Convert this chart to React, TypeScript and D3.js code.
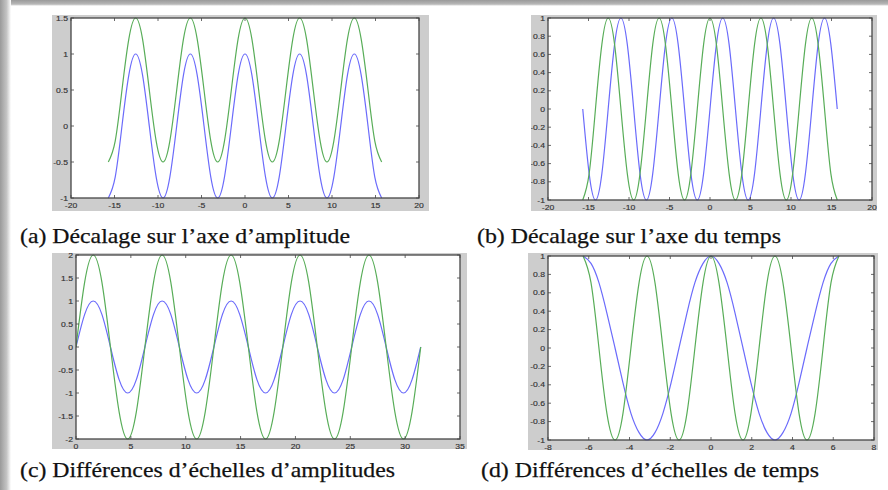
import React from 'react';
import * as d3 from 'd3';

// ---------- Panel (a): amplitude shift ----------
const xA = [-15.71,-14.92,-14.14,-13.35,-12.57,-11.78,-11.0,-10.21,-9.42,-8.64,-7.85,-7.07,-6.28,-5.5,-4.71,-3.93,-3.14,-2.36,-1.57,-0.79,0,0.79,1.57,2.36,3.14,3.93,4.71,5.5,6.28,7.07,7.85,8.64,9.42,10.21,11.0,11.78,12.57,13.35,14.14,14.92,15.71];
const blueA = [-1,-0.71,0,0.71,1,0.71,0,-0.71,-1,-0.71,0,0.71,1,0.71,0,-0.71,-1,-0.71,0,0.71,1,0.71,0,-0.71,-1,-0.71,0,0.71,1,0.71,0,-0.71,-1,-0.71,0,0.71,1,0.71,0,-0.71,-1];
const greenA = [-0.5,-0.21,0.5,1.21,1.5,1.21,0.5,-0.21,-0.5,-0.21,0.5,1.21,1.5,1.21,0.5,-0.21,-0.5,-0.21,0.5,1.21,1.5,1.21,0.5,-0.21,-0.5,-0.21,0.5,1.21,1.5,1.21,0.5,-0.21,-0.5,-0.21,0.5,1.21,1.5,1.21,0.5,-0.21,-0.5];
const xTicksA = [-20,-15,-10,-5,0,5,10,15,20];
const yTicksA = [-1,-0.5,0,0.5,1,1.5];
const captionA = '(a) Décalage sur l’axe d’amplitude';

// ---------- Panel (b): time shift ----------
const xB = xA;
const blueB = [0,-0.71,-1,-0.71,0,0.71,1,0.71,0,-0.71,-1,-0.71,0,0.71,1,0.71,0,-0.71,-1,-0.71,0,0.71,1,0.71,0,-0.71,-1,-0.71,0,0.71,1,0.71,0,-0.71,-1,-0.71,0,0.71,1,0.71,0];
const greenB = [-1,-0.71,0,0.71,1,0.71,0,-0.71,-1,-0.71,0,0.71,1,0.71,0,-0.71,-1,-0.71,0,0.71,1,0.71,0,-0.71,-1,-0.71,0,0.71,1,0.71,0,-0.71,-1,-0.71,0,0.71,1,0.71,0,-0.71,-1];
const xTicksB = [-20,-15,-10,-5,0,5,10,15,20];
const yTicksB = [-1,-0.8,-0.6,-0.4,-0.2,0,0.2,0.4,0.6,0.8,1];
const captionB = '(b) Décalage sur l’axe du temps';

// ---------- Panel (c): amplitude scale ----------
const xC = [0,0.79,1.57,2.36,3.14,3.93,4.71,5.5,6.28,7.07,7.85,8.64,9.42,10.21,11.0,11.78,12.57,13.35,14.14,14.92,15.71,16.49,17.28,18.06,18.85,19.63,20.42,21.21,21.99,22.78,23.56,24.35,25.13,25.92,26.7,27.49,28.27,29.06,29.85,30.63,31.42];
const blueC = [0,0.71,1,0.71,0,-0.71,-1,-0.71,0,0.71,1,0.71,0,-0.71,-1,-0.71,0,0.71,1,0.71,0,-0.71,-1,-0.71,0,0.71,1,0.71,0,-0.71,-1,-0.71,0,0.71,1,0.71,0,-0.71,-1,-0.71,0];
const greenC = [0,1.41,2,1.41,0,-1.41,-2,-1.41,0,1.41,2,1.41,0,-1.41,-2,-1.41,0,1.41,2,1.41,0,-1.41,-2,-1.41,0,1.41,2,1.41,0,-1.41,-2,-1.41,0,1.41,2,1.41,0,-1.41,-2,-1.41,0];
const xTicksC = [0,5,10,15,20,25,30,35];
const yTicksC = [-2,-1.5,-1,-0.5,0,0.5,1,1.5,2];
const captionC = '(c) Différences d’échelles d’amplitudes';

// ---------- Panel (d): time scale ----------
const xD = [-6.28,-5.89,-5.5,-5.11,-4.71,-4.32,-3.93,-3.53,-3.14,-2.75,-2.36,-1.96,-1.57,-1.18,-0.79,-0.39,0,0.39,0.79,1.18,1.57,1.96,2.36,2.75,3.14,3.53,3.93,4.32,4.71,5.11,5.5,5.89,6.28];
const blueD = [1,0.92,0.71,0.38,0,-0.38,-0.71,-0.92,-1,-0.92,-0.71,-0.38,0,0.38,0.71,0.92,1,0.92,0.71,0.38,0,-0.38,-0.71,-0.92,-1,-0.92,-0.71,-0.38,0,0.38,0.71,0.92,1];
const greenD = [1,0.71,0,-0.71,-1,-0.71,0,0.71,1,0.71,0,-0.71,-1,-0.71,0,0.71,1,0.71,0,-0.71,-1,-0.71,0,0.71,1,0.71,0,-0.71,-1,-0.71,0,0.71,1];
const xTicksD = [-8,-6,-4,-2,0,2,4,6,8];
const yTicksD = [-1,-0.8,-0.6,-0.4,-0.2,0,0.2,0.4,0.6,0.8,1];
const captionD = '(d) Différences d’échelles de temps';

const BLUE = '#6b6bfb';
const GREEN = '#58ad58';
const TICK_FONT = "'Liberation Sans', Arial, sans-serif";
const CAP_FONT = "'Liberation Serif', 'Times New Roman', serif";

type PanelProps = {
  id: string;
  fig: [number, number, number, number]; // gray figure x0,y0,x1,y1
  ax: [number, number, number, number]; // axes box x0,y0,x1,y1
  xs: number[];
  blue: number[];
  green: number[];
  xTicks: number[];
  yTicks: number[];
};

function TickText({ x, y, anchor, children }: { x: number; y: number; anchor: string; children: string }) {
  return (
    <text transform={`translate(${x},${y}) scale(1.15,1)`} textAnchor={anchor} fontSize={7.5}
      fontFamily={TICK_FONT} fill="#333" stroke="#333" strokeWidth={0.15}>{children}</text>
  );
}

function Panel({ id, fig, ax, xs, blue, green, xTicks, yTicks }: PanelProps) {
  const [fx0, fy0, fx1, fy1] = fig;
  const [ax0, ay0, ax1, ay1] = ax;
  const x = d3.scaleLinear().domain([xTicks[0], xTicks[xTicks.length - 1]]).range([ax0, ax1]);
  const y = d3.scaleLinear().domain([yTicks[0], yTicks[yTicks.length - 1]]).range([ay1, ay0]);
  const mk = (vals: number[]) =>
    d3.line<number>().x((_, i) => x(xs[i])).y((d) => y(d)).curve(d3.curveNatural)(vals) || '';
  const tl = 3;
  const tickColor = '#444';
  return (
    <g>
      <defs>
        <clipPath id={`fig-${id}`}>
          <rect x={fx0} y={fy0} width={fx1 - fx0} height={fy1 - fy0} />
        </clipPath>
        <clipPath id={`ax-${id}`}>
          <rect x={ax0} y={ay0 - 1} width={ax1 - ax0} height={ay1 - ay0 + 2} />
        </clipPath>
      </defs>
      <g clipPath={`url(#fig-${id})`}>
        <rect x={fx0} y={fy0} width={fx1 - fx0} height={fy1 - fy0} fill="#cdcdcd" />
        <rect x={ax0} y={ay0} width={ax1 - ax0} height={ay1 - ay0} fill="#ffffff" />
        <g clipPath={`url(#ax-${id})`}>
          <path d={mk(blue)} fill="none" stroke={BLUE} strokeWidth={1.2} />
          <path d={mk(green)} fill="none" stroke={GREEN} strokeWidth={1.2} />
        </g>
        {xTicks.map((t) => (
          <g key={`xt${t}`}>
            <line x1={x(t)} x2={x(t)} y1={ay1} y2={ay1 - tl} stroke={tickColor} strokeWidth={0.8} />
            <line x1={x(t)} x2={x(t)} y1={ay0} y2={ay0 + tl} stroke={tickColor} strokeWidth={0.8} />
            <TickText x={x(t)} y={ay1 + 9.5} anchor="middle">{String(t)}</TickText>
          </g>
        ))}
        {yTicks.map((t) => (
          <g key={`yt${t}`}>
            <line x1={ax0} x2={ax0 + tl} y1={y(t)} y2={y(t)} stroke={tickColor} strokeWidth={0.8} />
            <line x1={ax1} x2={ax1 - tl} y1={y(t)} y2={y(t)} stroke={tickColor} strokeWidth={0.8} />
            <TickText x={ax0 - 3} y={y(t) + 2.6} anchor="end">{String(t)}</TickText>
          </g>
        ))}
        <rect x={ax0} y={ay0} width={ax1 - ax0} height={ay1 - ay0} fill="none" stroke="#454545" strokeWidth={1.3} />
      </g>
    </g>
  );
}

export default function App() {
  const capStyle = { fontFamily: CAP_FONT, fontSize: 22, fill: '#111', stroke: '#111', strokeWidth: 0.25 };
  return (
    <div style={{ position: 'absolute', left: 0, top: 0 }}>
      <svg width={888} height={490} style={{ display: 'block' }}>
        <defs>
          <linearGradient id="shadowL" x1="0" x2="1" y1="0" y2="0">
            <stop offset="0" stopColor="#9a9a9a" />
            <stop offset="0.6" stopColor="#c4c4c4" />
            <stop offset="1" stopColor="#ffffff" />
          </linearGradient>
          <linearGradient id="shadowT" x1="0" x2="0" y1="0" y2="1">
            <stop offset="0" stopColor="#9a9a9a" />
            <stop offset="0.7" stopColor="#b8b8b8" />
            <stop offset="1" stopColor="#ffffff" />
          </linearGradient>
        </defs>
        <rect x={0} y={0} width={888} height={490} fill="#ffffff" />
        <rect x={0} y={0} width={888} height={6} fill="url(#shadowT)" />
        <rect x={0} y={0} width={11} height={490} fill="url(#shadowL)" />

        <Panel id="a" fig={[52, 15, 429, 211]} ax={[71, 18, 419, 198]} xs={xA} blue={blueA} green={greenA} xTicks={xTicksA} yTicks={yTicksA} />
        <Panel id="b" fig={[531, 15, 877, 211]} ax={[548, 18, 872, 200]} xs={xB} blue={blueB} green={greenB} xTicks={xTicksB} yTicks={yTicksB} />
        <Panel id="c" fig={[52, 253, 467, 449]} ax={[76, 255, 460, 439]} xs={xC} blue={blueC} green={greenC} xTicks={xTicksC} yTicks={yTicksC} />
        <Panel id="d" fig={[528, 253, 878, 450]} ax={[548, 256, 874, 440]} xs={xD} blue={blueD} green={greenD} xTicks={xTicksD} yTicks={yTicksD} />

        <text x={20} y={243} textLength={330} lengthAdjust="spacingAndGlyphs" style={capStyle}>{captionA}</text>
        <text x={477} y={243} textLength={304} lengthAdjust="spacingAndGlyphs" style={capStyle}>{captionB}</text>
        <text x={20} y={477} textLength={375} lengthAdjust="spacingAndGlyphs" style={capStyle}>{captionC}</text>
        <text x={481} y={477} textLength={338} lengthAdjust="spacingAndGlyphs" style={capStyle}>{captionD}</text>
      </svg>
    </div>
  );
}
